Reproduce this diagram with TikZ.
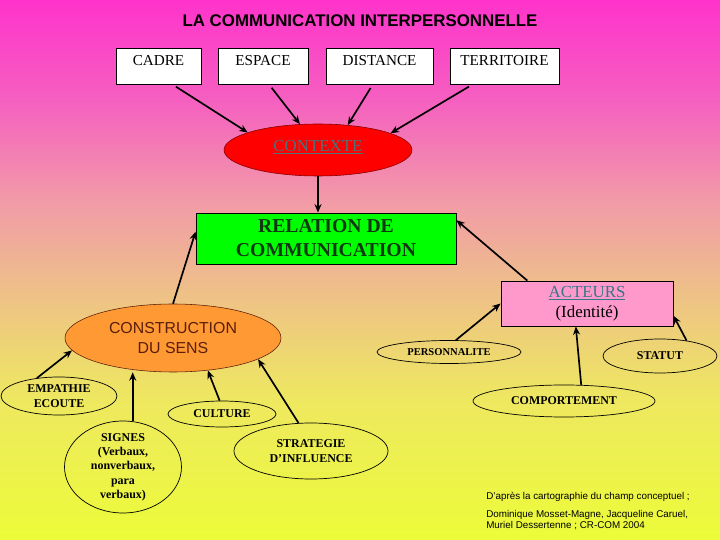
\documentclass[tikz,border=0pt]{standalone}
\usepackage{fontspec}
\setmainfont{Liberation Serif}
\setsansfont{Liberation Sans}
\usetikzlibrary{arrows.meta,shapes.geometric}
\definecolor{bgtop}{RGB}{255,51,204}
\definecolor{bgpink}{RGB}{245,96,192}
\definecolor{bgrose}{RGB}{242,154,168}
\definecolor{bgmid}{RGB}{238,184,144}
\definecolor{bgyel}{RGB}{238,232,96}
\definecolor{bgbot}{RGB}{236,252,56}
\definecolor{relgreen}{RGB}{0,255,0}
\definecolor{reltext}{RGB}{16,56,16}
\definecolor{actpink}{RGB}{255,153,204}
\definecolor{acttext}{RGB}{51,119,136}
\definecolor{ctxtext}{RGB}{74,116,120}
\definecolor{sensorange}{RGB}{255,153,51}
\definecolor{senstext}{RGB}{90,30,10}
\pgfdeclareverticalshading{bgfade}{100bp}{color(0bp)=(bgbot); color(25bp)=(bgbot); color(38bp)=(bgyel); color(50bp)=(bgmid); color(56.5bp)=(bgrose); color(65.7bp)=(bgpink); color(75bp)=(bgtop); color(100bp)=(bgtop)}

\begin{document}
\begin{tikzpicture}[
			topbox/.style={rectangle, draw=black, fill=white, line width=0.6pt, minimum height=0.9cm, text height=8pt, text depth=8pt, font=\fontsize{10.8}{13}\selectfont},
			oval/.style={ellipse, draw=black, line width=0.5pt, inner sep=0pt, align=center, font=\fontsize{8.5}{10.2}\selectfont\bfseries},
			link/.style={-{Stealth[length=6pt,width=5pt]}, line width=1.2pt}
			]
			\useasboundingbox (0,0) rectangle (18,13.5);
			\shade[shading=bgfade] (0,0) rectangle (18,13.5);
			
			\node[font=\fontsize{12}{14}\selectfont\sffamily\bfseries] (TIT) at (9,12.975) {LA COMMUNICATION INTERPERSONNELLE};
			
			\node[topbox, minimum width=2.125cm] (B1) at (3.9625,11.85) {CADRE};
			\node[topbox, minimum width=2.25cm] (B2) at (6.575,11.85) {ESPACE};
			\node[topbox, minimum width=2.675cm] (B3) at (9.4875,11.85) {DISTANCE};
			\node[topbox, minimum width=2.725cm] (B4) at (12.6125,11.85) {TERRITOIRE};
			
			\node[ellipse, draw={rgb,255:red,128;green,0;blue,0}, fill=red, minimum width=4.7cm, minimum height=1.3cm, text height=8pt, text depth=6pt, font=\fontsize{12}{14}\selectfont] (CTX) at (7.95,9.75) {\color{ctxtext}\underline{CONTEXTE}};
			\node[rectangle, draw=black, fill=relgreen, line width=0.6pt, minimum width=6.5cm, minimum height=1.275cm, align=center, text=reltext, font=\fontsize{14}{17}\selectfont\bfseries] (REL) at (8.15,7.5375) {RELATION DE\\COMMUNICATION};
			\node[rectangle, draw=black, fill=actpink, line width=0.6pt, minimum width=4.3cm, minimum height=1.125cm, align=center, font=\fontsize{12}{14.2}\selectfont] (ACT) at (14.675,5.9125) {{\color{acttext}\underline{ACTEURS}}\\(Identité)};
			\node[ellipse, draw=senstext, fill=sensorange, minimum width=5.4cm, minimum height=1.7cm, align=center, text=senstext, font=\fontsize{11.3}{14.2}\selectfont\sffamily] (SENS) at (4.325,5.05) {CONSTRUCTION\\DU SENS};
			
			\node[oval, minimum width=2.9cm, minimum height=0.95cm] (EMP) at (1.475,3.6) {EMPATHIE\\ECOUTE};
			\node[oval, minimum width=2.925cm, minimum height=2.3cm, inner ysep=-2pt] (SIG) at (3.075,1.825) {SIGNES\\(Verbaux,\\nonverbaux,\\para\\verbaux)};
			\node[oval, minimum width=2.7cm, minimum height=0.65cm] (CUL) at (5.55,3.15) {CULTURE};
			\node[oval, minimum width=3.85cm, minimum height=1.4cm] (STR) at (7.775,2.225) {STRATEGIE\\D'INFLUENCE};
			\node[oval, minimum width=3.6cm, minimum height=0.575cm, font=\fontsize{7.5}{9}\selectfont\bfseries] (PER) at (11.225,4.7) {PERSONNALITE};
			\node[oval, minimum width=2.85cm, minimum height=0.85cm] (STA) at (16.5,4.6) {STATUT};
			\node[oval, minimum width=4.55cm, minimum height=0.8cm] (COM) at (14.1,3.475) {COMPORTEMENT};
			
			\node[anchor=north west, inner sep=0pt, align=left, font=\fontsize{7}{7.8}\selectfont\sffamily] (REF) at (12.15,1.2125) {D'après la cartographie du champ conceptuel ;\\[5.4pt]Dominique Mosset-Magne, Jacqueline Caruel,\\Muriel Dessertenne ; CR-COM 2004};
			
			\draw[link, shorten <=3pt] (B1.-53) -- (CTX.166);
			\draw[link, shorten <=3pt] (B2.-72) -- (CTX.125);
			\draw[link, shorten <=3pt] (B3.-110) -- (CTX.40);
			\draw[link, shorten <=3pt] (B4.-150) -- (CTX.13);
			
			\draw[link] (CTX.south) -- (CTX.south |- REL.north);
			\draw[link] (SENS.north) -- (REL.177);
			\draw[link] (ACT.159) -- (REL.8);
			
			\draw[link] (EMP.141) -- (SENS.187);
			\draw[link] (SIG.78) -- (SIG.78 |- SENS.south);
			\draw[link] (CUL.100) -- (SENS.-43);
			\draw[link] (STR.114) -- (SENS.-14);
			
			\draw[link] (PER.60) -- (ACT.west);
			\draw[link] (STA.30) -- (ACT.-8);
			\draw[link] (COM.43) -- (ACT.-116);
		\end{tikzpicture}
\end{document}
